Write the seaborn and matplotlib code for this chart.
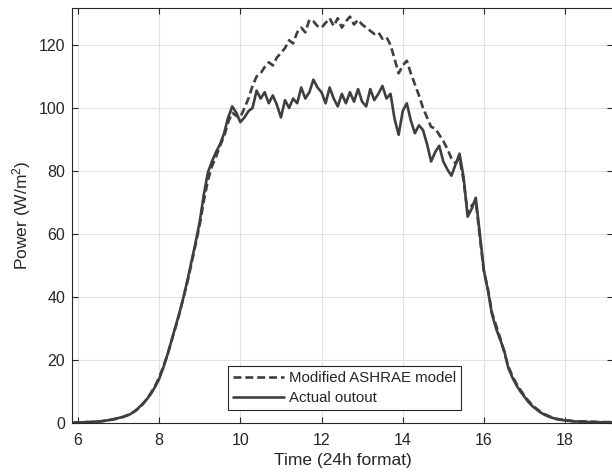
import numpy as np
import pandas as pd
import matplotlib
matplotlib.use("Agg")
import matplotlib.pyplot as plt
import seaborn as sns

# time axis, 0.1 h steps from 5.9 to 19.2
time_h = np.round(np.arange(59, 193) / 10, 1)

actual_out = [
    0.2, 0.2, 0.2, 0.3, 0.3, 0.4, 0.5, 0.6, 0.8, 1.0, 1.3,
    1.6, 1.9, 2.3, 2.9, 3.8, 4.9, 6.2, 7.6, 9.3, 11.5,
    14.0, 17.5, 21.5, 26.0, 30.5, 35.0, 40.0, 45.5, 51.5, 57.5,
    64.0, 72.5, 79.5, 83.0, 86.0, 88.5, 92.0, 97.0, 100.5, 98.5,
    95.5, 97.0, 99.0, 100.0, 105.5, 103.0, 105.0, 101.5, 104.0, 101.0,
    97.0, 102.5, 100.0, 103.0, 101.5, 106.5, 103.0, 105.0, 109.0, 106.5,
    105.0, 101.5, 106.5, 103.0, 100.5, 104.5, 101.5, 105.0, 102.0, 106.0,
    102.0, 100.5, 106.0, 102.5, 104.5, 107.0, 103.0, 104.5, 96.5, 91.5,
    99.0, 101.5, 96.0, 92.0, 94.5, 93.0, 88.5, 83.0, 86.0, 88.0,
    83.0, 80.5, 78.5, 82.0, 85.5, 78.0, 65.5, 68.0, 71.5, 60.0,
    48.5, 42.0, 34.5, 30.0, 26.5, 23.0, 17.5, 14.5, 12.0, 10.0,
    8.3, 6.6, 5.3, 4.3, 3.3, 2.6, 2.0, 1.6, 1.2, 1.0,
    0.8, 0.7, 0.5, 0.5, 0.4, 0.4, 0.3, 0.3, 0.3, 0.2,
    0.2, 0.2, 0.2,
]

ashrae_model = [
    0.2, 0.2, 0.2, 0.3, 0.3, 0.4, 0.5, 0.6, 0.8, 1.0, 1.2,
    1.5, 1.9, 2.4, 3.0, 3.7, 4.7, 6.0, 7.7, 9.6, 11.8,
    14.5, 17.8, 21.5, 25.8, 30.2, 34.8, 39.8, 45.0, 50.8, 56.8,
    63.0, 70.5, 77.0, 81.5, 84.5, 88.0, 91.0, 95.5, 98.5, 97.5,
    97.0, 100.0, 103.0, 107.0, 110.0, 111.0, 113.0, 114.5, 113.5, 116.0,
    117.5, 119.0, 121.5, 120.5, 124.0, 125.5, 124.0, 128.0, 127.5, 126.0,
    125.5, 127.0, 128.5, 126.0, 128.5, 125.5, 127.5, 129.0, 126.5, 128.0,
    126.5, 125.5, 124.5, 123.5, 124.0, 122.0, 122.5, 120.0, 115.5, 111.0,
    113.5, 115.0, 111.0, 107.5, 104.0, 100.0, 97.0, 94.0, 93.5, 91.5,
    89.5, 87.0, 84.0, 82.5, 84.0, 77.0, 66.5, 69.0, 70.5, 59.0,
    48.0, 42.5, 35.0, 31.0, 27.0, 22.5, 18.0, 15.0, 12.5, 10.5,
    8.6, 7.0, 5.6, 4.5, 3.5, 2.8, 2.2, 1.7, 1.3, 1.1,
    0.9, 0.8, 0.6, 0.6, 0.5, 0.5, 0.4, 0.4, 0.3, 0.3,
    0.3, 0.3, 0.3,
]

x_ticks = [6, 8, 10, 12, 14, 16, 18]
y_ticks = [0, 20, 40, 60, 80, 100, 120]

sns.set_style("whitegrid")
plt.rcParams["font.family"] = ["Liberation Sans", "DejaVu Sans"]
plt.rcParams["mathtext.fontset"] = "custom"
plt.rcParams["mathtext.rm"] = "Liberation Sans"
plt.rcParams["mathtext.it"] = "Liberation Sans"

line_col = "#3f3f3f"
txt_col = "#262626"

fig = plt.figure(figsize=(6.12, 4.72), dpi=100)
ax = fig.add_axes([0.1176, 0.1038, 0.884, 0.879])

sns.lineplot(x=time_h, y=ashrae_model, ax=ax, color=line_col, linewidth=1.9,
             linestyle=(0, (3, 1.5)), label="Modified ASHRAE model")
sns.lineplot(x=time_h, y=actual_out, ax=ax, color=line_col, linewidth=1.9,
             label="Actual outout")

ax.set_xlim(5.852, 19.18)
ax.set_ylim(0, 131.7)
ax.set_xticks(x_ticks)
ax.set_yticks(y_ticks)
ax.grid(True, color="#e2e2e2", linewidth=0.8)
ax.tick_params(direction="in", length=4, width=0.8, colors=txt_col,
               labelsize=11.5, top=True, right=True, bottom=True, left=True)
ax.tick_params(axis="x", pad=7)
ax.tick_params(axis="y", pad=5)
for s in ax.spines.values():
    s.set_color(txt_col)
    s.set_linewidth(0.8)

ax.set_xlabel("Time (24h format)", fontsize=12.5, color=txt_col, labelpad=4)
ax.set_ylabel("Power (W/m$^2$)", fontsize=12.5, color=txt_col, labelpad=4)

leg = ax.legend(loc="lower left", bbox_to_anchor=(0.288, 0.031), fontsize=10.8,
                frameon=True, fancybox=False, framealpha=1, edgecolor=txt_col,
                handlelength=3.4, handletextpad=0.3, borderpad=0.35,
                labelspacing=0.4, borderaxespad=0)
leg.get_frame().set_linewidth(0.8)

fig.savefig("out.png", dpi=100)
